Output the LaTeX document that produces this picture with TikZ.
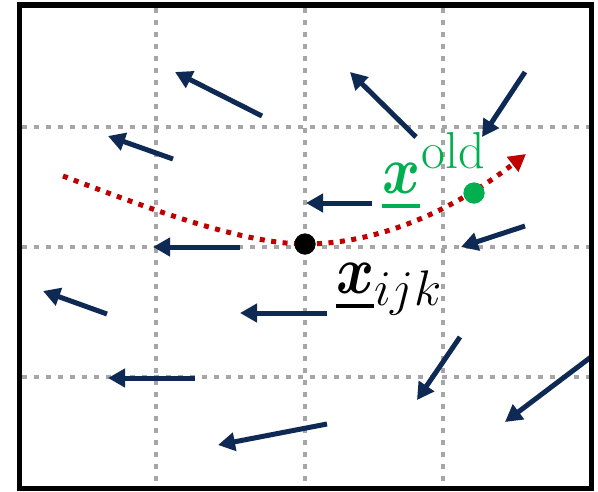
\RequirePackage{fix-cm}
\documentclass[tikz,border=0pt]{standalone}
\usepackage{amsmath,bm}
\usepackage{graphicx}
\usetikzlibrary{arrows.meta}
\definecolor{navy}{RGB}{14,42,84}
\definecolor{gridgray}{RGB}{166,166,166}
\definecolor{curvered}{RGB}{192,0,0}
\definecolor{dotgreen}{RGB}{0,176,80}
\newcommand{\ulx}[1]{\vtop{\hbox{#1}\kern11pt\hrule height 4pt}}
\newcommand{\bigx}{\scalebox{0.85}[1]{\fontsize{68}{68}\selectfont$\bm{x}$}}
\tikzset{
  gridline/.style={gridgray, line width=4.5pt, dash pattern=on 4.5pt off 7.5pt},
  vec/.style={navy, line width=5pt, -{Triangle[length=17pt,width=18pt]}},
  redpath/.style={curvered, line width=5pt, dash pattern=on 5pt off 6.5pt, -{Triangle[length=17pt,width=18pt]}},
  dot/.style={circle, inner sep=0pt, minimum size=21pt},
  lbl/.style={inner sep=0pt, anchor=base west},
}
\begin{document}
\begin{tikzpicture}[x=1pt,y=-1pt]
\useasboundingbox (0,0) rectangle (598,491);
\fill[white] (0,0) rectangle (598,491);
% grid
\foreach \gx in {156,305,443} {
  \coordinate (vt\gx) at (\gx,8);
  \coordinate (vb\gx) at (\gx,486);
  \draw[gridline] (vt\gx) -- (vb\gx);
}
\foreach \gy in {127,247,377} {
  \coordinate (hl\gy) at (22,\gy);
  \coordinate (hr\gy) at (589,\gy);
  \draw[gridline] (hl\gy) -- (hr\gy);
}
% vector field arrows
\foreach \n/\sx/\sy/\ex/\ey in {
  1/262/116/175/72,
  2/173/159/108/136,
  3/240/247/153/247,
  4/107/314/43/291,
  5/327/313/240/313,
  6/195/378/108/378,
  7/327/424/218/445,
  8/460/337/417/400,
  9/591/357/505/422,
  10/416/137/350/72,
  11/525/72/482/137,
  12/372/203/306/203,
  13/525/226/461/247} {
  \coordinate (t\n) at (\sx,\sy);
  \coordinate (h\n) at (\ex,\ey);
  \draw[vec] (t\n) -- (h\n);
}
% trajectory
\node[dot, fill=black] (pij) at (305,244) {};
\node[dot, fill=dotgreen] (pold) at (474,193) {};
\coordinate (cs) at (63,176);
\coordinate (ce) at (526,154);
\draw[redpath] (cs) .. controls (140,205) and (240,244) .. (pij.center)
  .. controls (375,244) and (450,213) .. (ce);
\node[dot, fill=black] at (pij) {};
\node[dot, fill=dotgreen] at (pold) {};
% labels
\node[lbl] (lijk) at (336,293) {\hbox{\ulx{\bigx}\raisebox{-12pt}{\fontsize{50}{50}\selectfont$ijk$}}};
\node[lbl, text=dotgreen] (lold) at (382,193) {\hbox{\ulx{\bigx}\kern1pt\raisebox{25pt}{\fontsize{52}{52}\selectfont old}}};
% frame
\draw[black, line width=5.5pt] (19.5,5) rectangle (591.5,488.5);
\end{tikzpicture}
\end{document}
